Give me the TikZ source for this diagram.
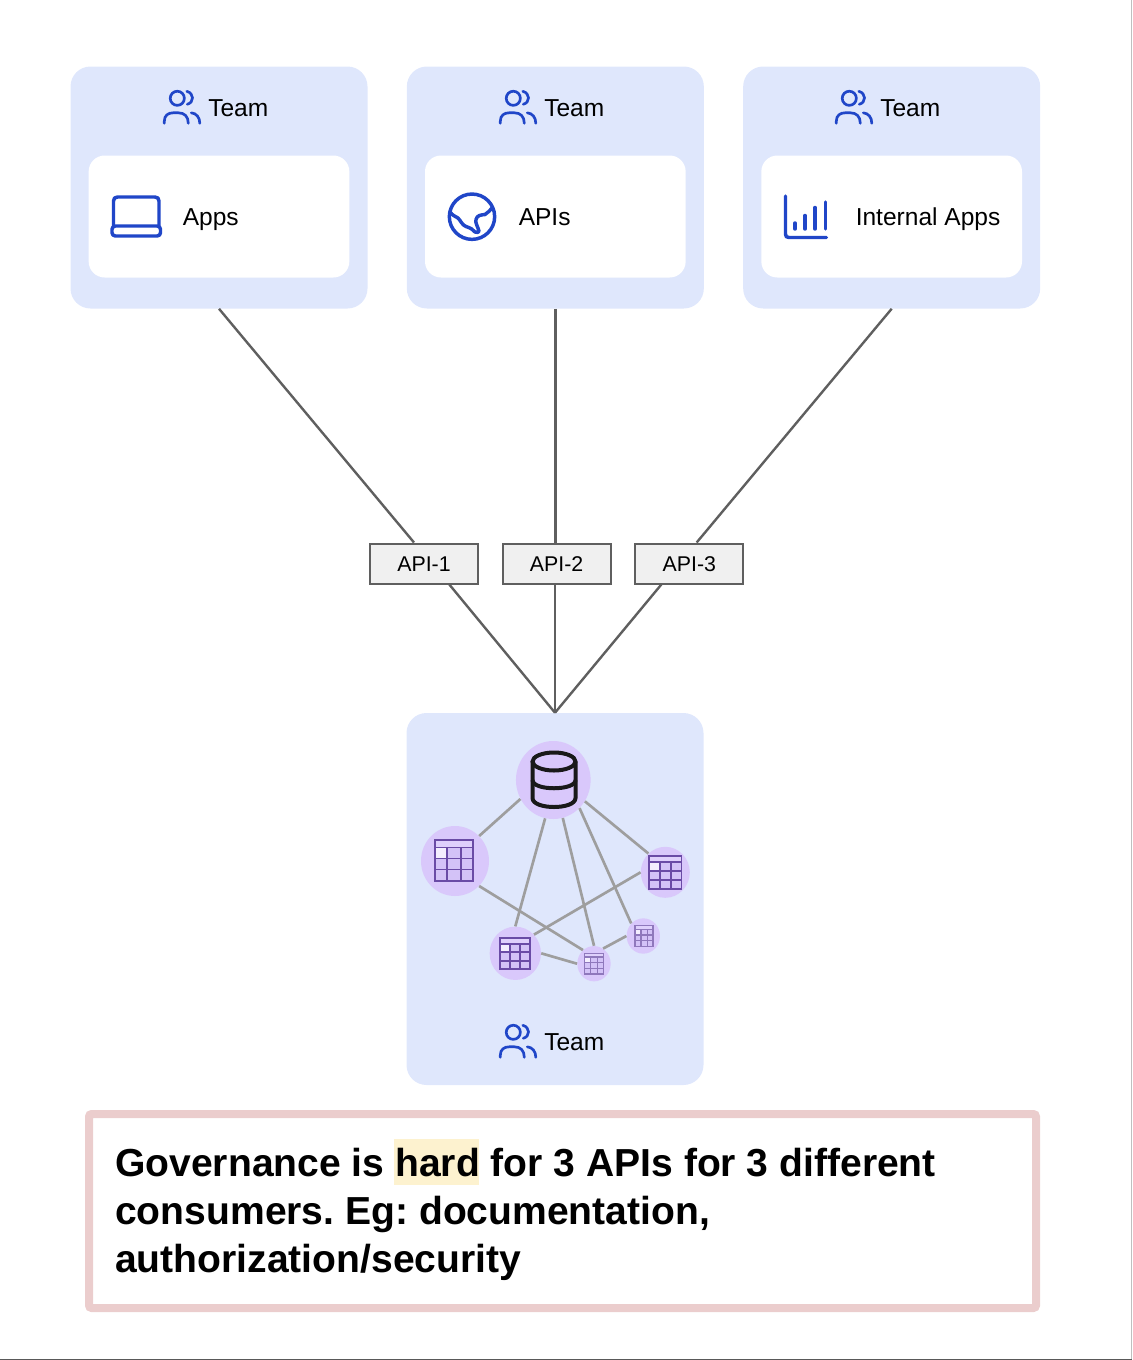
\documentclass[tikz,border=0pt]{standalone}
\usepackage{fontspec}
\setmainfont{Liberation Sans}
\usepackage{tikz}
\usetikzlibrary{shapes.geometric, positioning}

\definecolor{cardblue}{HTML}{DFE7FC}
\definecolor{iconblue}{HTML}{2046C8}
\definecolor{linegray}{HTML}{5F5F5F}
\definecolor{edgegray}{HTML}{9E9E9E}
\definecolor{bubble}{HTML}{D9C8FB}
\definecolor{gridpurple}{HTML}{6A4BA6}
\definecolor{notepink}{HTML}{EBCDCD}
\definecolor{markyellow}{HTML}{FDF2CF}

\begin{document}
\begin{tikzpicture}[
    x=0.75pt, y=-0.75pt,
    card/.style={fill=cardblue, rounded corners=15pt, minimum width=222.75pt, minimum height=181.5pt},
    inner/.style={fill=white, rounded corners=12pt, minimum width=195.5pt, minimum height=91.5pt},
    label/.style={font=\fontsize{18.4pt}{22pt}\selectfont, anchor=base west, inner sep=0pt},
    api/.style={draw=linegray, fill=black!6, line width=1.5pt, minimum width=81pt, minimum height=30pt, inner sep=0pt, text height=12.7pt, text depth=0pt, font=\fontsize{16pt}{19pt}\selectfont},
    link/.style={draw=linegray, line width=1.8pt},
    edge/.style={draw=edgegray, line width=2pt},
    circ/.style={ellipse, fill=bubble, inner sep=0pt},
    icon/.style={draw=iconblue, line width=2.6pt, line cap=round, line join=round},
    tabbig/.style={draw=gridpurple, line width=1.4pt},
    tabsmall/.style={draw=gridpurple!75, line width=0.9pt},
    teamicon/.pic={
        \draw[draw=iconblue, line width=2pt, line cap=round] (0,0) circle (5.3pt);
        \draw[draw=iconblue, line width=2pt, line cap=round] (9.5,-7) .. controls (17,-5) and (17,4) .. (10,6);
        \draw[draw=iconblue, line width=2pt, line cap=round] (-13,25) -- (-13,23) .. controls (-13,17) and (-9,14.5) .. (-4,14.5) -- (1,14.5) .. controls (7,14.5) and (11,18) .. (11,25);
        \draw[draw=iconblue, line width=2pt, line cap=round] (14,14.5) .. controls (19,15) and (22.5,19) .. (22.5,25);
    },
    tableicon/.pic={
        \fill[bubble!95!gridpurple] (-.5,-.5) rectangle (.5,.5);
        \fill[bubble!85!white] (-.5,-.5) rectangle (.5,-.32);
        \fill[white!70!bubble] (-.5,-.32) rectangle (-.17,-.05);
        \draw (-.5,-.5) rectangle (.5,.5);
        \draw (-.5,-.32) -- (.5,-.32);
        \draw (-.5,-.05) -- (.5,-.05);
        \draw (-.5,.22) -- (.5,.22);
        \draw (-.17,-.32) -- (-.17,.5);
        \draw (.18,-.32) -- (.18,.5);
    }
]
    \useasboundingbox (0,0) rectangle (1132,1360);

    % page edges
    \draw[draw=black!25, line width=1pt] (1131.3,0) -- (1131.3,1360);
    \draw[draw=black!65, line width=1pt] (0,1359.3) -- (1132,1359.3);

    % top row of teams
    \node[card] (teamA) at (219,187.5) {};
    \node[card, right=29.1pt of teamA] (teamB) {};
    \node[card, right=29.1pt of teamB] (teamC) {};
    \node[inner, below=66.75pt of teamA.north] (appsbox) {};
    \node[inner, below=66.75pt of teamB.north] (apisbox) {};
    \node[inner, below=66.75pt of teamC.north] (internalbox) {};

    \pic at (177.3,98.3) {teamicon};
    \pic at (513.3,98.3) {teamicon};
    \pic at (849.3,98.3) {teamicon};
    \node[label] (teamAtext) at (208,116) {Team};
    \node[label] (teamBtext) at (544,116) {Team};
    \node[label] (teamCtext) at (880,116) {Team};
    \node[label] (appstext) at (182.5,225) {Apps};
    \node[label] (apistext) at (518.5,225) {APIs};
    \node[label] (internaltext) at (855.5,225) {Internal Apps};

    % laptop
    \draw[icon] (113.5,225.5) -- (113.5,201) .. controls (113.5,198.5) and (115,197) .. (117.5,197) -- (155,197) .. controls (157.5,197) and (159,198.5) .. (159,201) -- (159,225.5);
    \draw[icon, rounded corners=2.5pt] (112,226) rectangle (160.5,236);
    % globe
    \draw[icon] (472,216.7) circle (17pt);
    \draw[icon] (450,212) .. controls (453,216) and (455,216) .. (458,218) .. controls (461,221) and (462,225) .. (466,226.5) .. controls (470,228) and (473,229) .. (475,232) .. controls (477,233) and (479,232.5) .. (479,231) .. controls (478,227) and (475,223) .. (476,219.5) .. controls (477,215) and (481,215) .. (485,214.5) .. controls (488,213) and (490,210) .. (492.5,207.5);
    % bar chart
    \draw[icon] (785.5,196) -- (785.5,234) .. controls (785.5,236.5) and (786.5,237.5) .. (789,237.5) -- (826.5,237.5);
    \draw[icon] (795,223) -- (795,229);
    \draw[icon] (805,215.5) -- (805,229);
    \draw[icon] (815,207.5) -- (815,229);
    \draw[icon] (825.5,202) -- (825.5,229);

    % the three gateways
    \node[api] (apiA) at (424,563.5) {API-1};
    \node[api, right=17pt of apiA] (apiB) {API-2};
    \node[api, right=17pt of apiB] (apiC) {API-3};

    % owner of the data
    \node[card, minimum height=279pt] (teamD) at (555,899) {};
    \coordinate (dock) at (teamD.north);

    \draw[link] (teamA.south) -- ([xshift=-7.5pt]apiA.north);
    \draw[link] (teamB.south) -- (teamB.south |- apiB.north);
    \draw[link] (teamC.south) -- ([xshift=5.5pt]apiC.north);
    \draw[link] ([xshift=19pt]apiA.south) -- (dock);
    \draw[link] (dock |- apiB.south) -- (dock);
    \draw[link] ([xshift=-21pt]apiC.south) -- (dock);

    \pic at (513.3,1032.3) {teamicon};
    \node[label] (teamDtext) at (544,1050) {Team};

    % small graph of tables
    \node[circ, minimum width=56pt, minimum height=58.5pt] (db) at (553.3,780) {};
    \node[circ, minimum width=51pt, minimum height=52.5pt] (tabA) at (455,861) {};
    \node[circ, minimum width=36.75pt, minimum height=38.25pt] (tabB) at (665.3,872.3) {};
    \node[circ, minimum width=38.5pt, minimum height=40pt] (tabC) at (515.3,953.3) {};
    \node[circ, minimum width=25pt, minimum height=26.5pt] (tabD) at (594,963.7) {};
    \node[circ, minimum width=25pt, minimum height=26.5pt] (tabE) at (643.3,936) {};

    \draw[edge] (db.210) -- (tabA.46);
    \draw[edge] (db.258) -- (tabC.90);
    \draw[edge] (db.284) -- (tabD.90);
    \draw[edge] (db.313) -- (tabE.134);
    \draw[edge] (db.326) -- (tabB.132);
    \draw[edge] (tabA.-46) -- (tabD.129);
    \draw[edge] (tabB.180) -- (tabC.45);
    \draw[edge] (tabC.0) -- (tabD.180);
    \draw[edge] (tabD.59) -- (tabE.180);

    \pic[tabbig, xscale=38.7, yscale=40.7] at (454,860.5) {tableicon};
    \pic[tabbig, xscale=32.3, yscale=33.3] at (665.3,872.7) {tableicon};
    \pic[tabbig, xscale=29.7, yscale=31.3] at (515,953.7) {tableicon};
    \pic[tabsmall, xscale=19.7, yscale=20.7] at (594,963.7) {tableicon};
    \pic[tabsmall, xscale=18, yscale=20.7] at (644,936) {tableicon};

    % database drum
    \draw[draw=black!90, line width=3pt] (532.5,762) -- (532.5,798) .. controls (532.5,810) and (575.5,810) .. (575.5,798) -- (575.5,762);
    \draw[draw=black!90, line width=3pt] (554,761.5) ellipse (21.5 and 9);
    \draw[draw=black!90, line width=3pt] (532.5,780) .. controls (532.5,791) and (575.5,791) .. (575.5,780);

    % note under the diagram
    \node[fill=markyellow, minimum width=63.75pt, minimum height=34.5pt, inner sep=0pt] (hardmark) at (436.5,1162) {};
    \node[draw=notepink, line width=6pt, rounded corners=2pt, minimum width=710.25pt, minimum height=145.5pt] (note) at (562.5,1211) {};
    \node[anchor=west, inner sep=0pt, text width=671pt, align=flush left, font=\fontsize{29.3pt}{36pt}\selectfont\bfseries] (notetext) at ([xshift=22.5pt, yshift=-2.25pt]note.west) {\frenchspacing Governance is hard for 3 APIs for 3 different\\consumers. Eg: documentation,\\authorization/security};
\end{tikzpicture}
\end{document}
